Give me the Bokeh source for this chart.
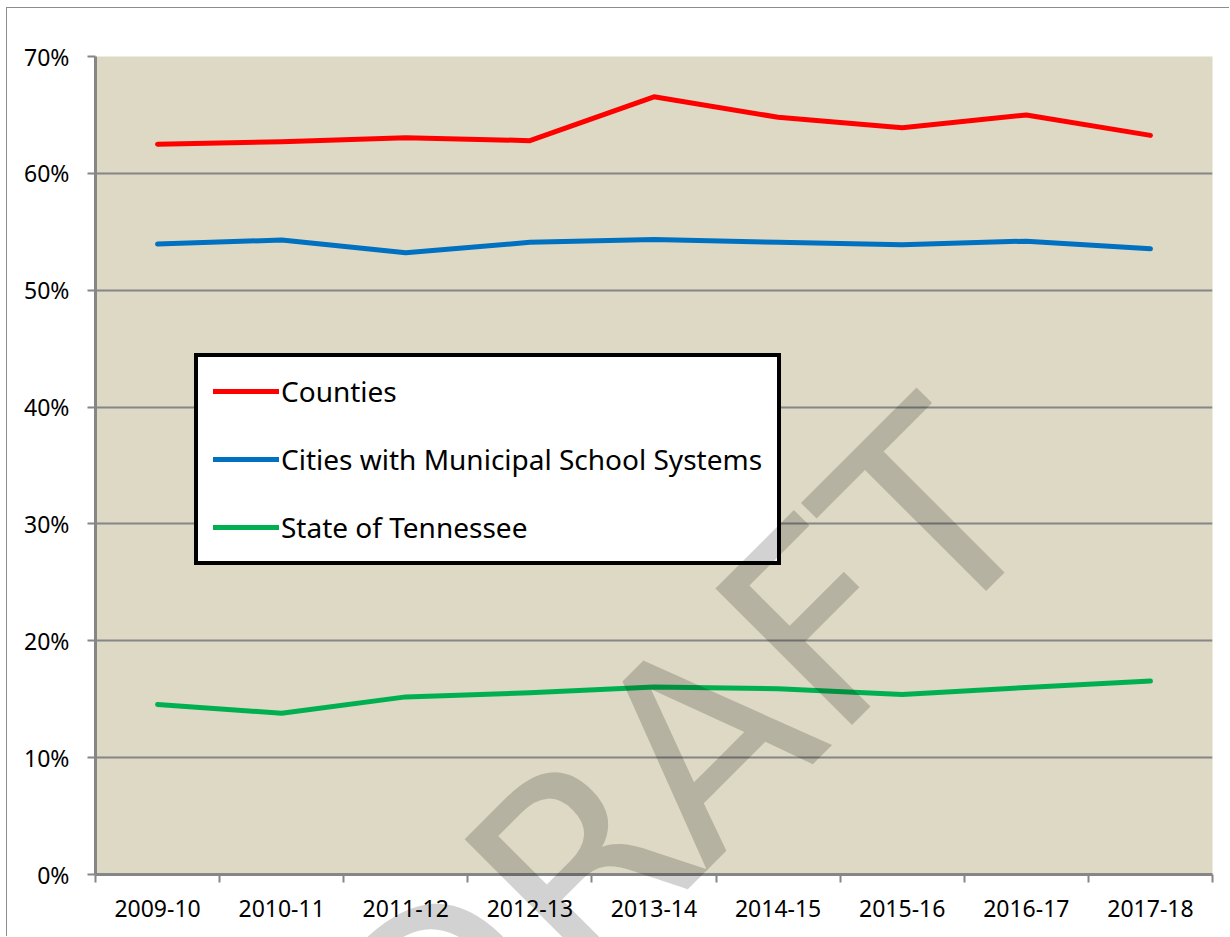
from bokeh.plotting import figure
from bokeh.layouts import column
from bokeh.models import (Range1d, FixedTicker, PrintfTickFormatter, Legend,
                          LegendItem, Label)
from bokeh.embed import file_html
from bokeh.resources import INLINE

# ---- data ----
years = ["2009-10", "2010-11", "2011-12", "2012-13", "2013-14",
         "2014-15", "2015-16", "2016-17", "2017-18"]
counties = [62.5, 62.7, 63.05, 62.8, 66.55, 64.8, 63.9, 65.0, 63.25]
cities = [53.95, 54.3, 53.2, 54.1, 54.35, 54.1, 53.9, 54.2, 53.55]
state = [14.55, 13.8, 15.2, 15.55, 16.05, 15.9, 15.4, 16.0, 16.55]
y_ticks = [0, 10, 20, 30, 40, 50, 60, 70]
series_names = ["Counties", "Cities with Municipal School Systems", "State of Tennessee"]
series_colors = ["#FF0000", "#0070C0", "#00B050"]

# category centres / boundaries derived from the category list
xs = [i + 0.5 for i in range(len(years))]
bounds = list(range(len(years) + 1))

AXIS = "#868686"
FONT = "Noto Sans"
W, H = 1223, 929

p = figure(width=W, height=H, output_backend="svg", toolbar_location=None,
           x_range=Range1d(0, len(years)), y_range=Range1d(y_ticks[0], y_ticks[-1]),
           min_border_left=88, min_border_right=18, min_border_top=48,
           min_border_bottom=63)
p.styles = {"margin-left": "6px", "margin-top": "7px",
            "border-left": "1px solid #8c8c8c", "border-top": "1px solid #8c8c8c"}
p.background_fill_color = "#DDD9C4"
p.border_fill_color = "white"
p.outline_line_color = None

# x axis: labels at centres, ticks at boundaries (minor ticks)
xa = p.xaxis[0]
xa.ticker = FixedTicker(ticks=xs, minor_ticks=bounds)
xa.major_label_overrides = {x: y for x, y in zip(xs, years)}
xa.major_tick_line_color = None
xa.major_tick_out = 0
xa.major_tick_in = 0
xa.minor_tick_line_color = AXIS
xa.minor_tick_line_width = 2
xa.minor_tick_out = 8
xa.minor_tick_in = 0
xa.axis_line_color = AXIS
xa.axis_line_width = 3
xa.major_label_text_font = FONT
xa.major_label_text_font_size = "23px"
xa.major_label_text_color = "black"
xa.major_label_standoff = 17

ya = p.yaxis[0]
ya.ticker = FixedTicker(ticks=y_ticks)
ya.formatter = PrintfTickFormatter(format="%d%%")
ya.major_tick_line_color = AXIS
ya.major_tick_line_width = 2
ya.major_tick_out = 8
ya.major_tick_in = 0
ya.minor_tick_line_color = None
ya.axis_line_color = AXIS
ya.axis_line_width = 3
ya.major_label_text_font = FONT
ya.major_label_text_font_size = "23px"
ya.major_label_text_color = "black"
ya.major_label_standoff = 18

p.xgrid.visible = False
p.ygrid.grid_line_color = AXIS
p.ygrid.grid_line_width = 2

renderers = []
for vals, color in zip([counties, cities, state], series_colors):
    r = p.line(xs, vals, line_color=color, line_width=5,
               line_cap="round", line_join="round")
    renderers.append(r)

legend = Legend(items=[LegendItem(label=n, renderers=[r])
                       for n, r in zip(series_names, renderers)],
                location=(99, 309))
legend.border_line_color = "black"
legend.border_line_alpha = 1
legend.border_line_width = 4
legend.background_fill_color = "white"
legend.background_fill_alpha = 1
legend.label_text_font = FONT
legend.label_text_font_size = "28px"
legend.label_text_color = "black"
legend.glyph_width = 66
legend.glyph_height = 30
legend.label_standoff = 2
legend.padding = 15
legend.spacing = 30
legend.margin = 0
p.add_layout(legend, "center")

# transparent overlay canvas for the DRAFT watermark (so it is not clipped
# to the plot frame)
ov = figure(width=W, height=H, output_backend="svg", toolbar_location=None,
            x_range=Range1d(0, W), y_range=Range1d(0, H),
            x_axis_type=None, y_axis_type=None, min_border=0)
ov.styles = {"position": "absolute", "left": "7px", "top": "8px",
             "pointer-events": "none"}
ov.background_fill_alpha = 0
ov.border_fill_alpha = 0
ov.outline_line_color = None
ov.grid.visible = False
wm = Label(x=585, y=171, x_units="screen", y_units="screen",
           text="DRAFT", angle=45, angle_units="deg",
           text_font="DejaVu Sans", text_font_size="265px",
           text_color="black", text_alpha=0.175,
           text_align="center", text_baseline="middle", level="overlay")
ov.add_layout(wm)

layout = column(p, ov, spacing=0)
open("out.html", "w").write(file_html(layout, INLINE))
